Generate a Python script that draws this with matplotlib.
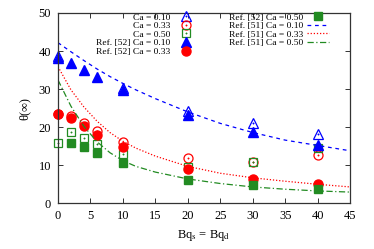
#!/usr/bin/env python3
"""Steady-state deformation theta(inf) versus Boussinesq number, three capillary numbers."""

import matplotlib
matplotlib.use("Agg")
import matplotlib.pyplot as plt

plt.rcParams["font.family"] = ["Liberation Serif", "DejaVu Serif"]
plt.rcParams["mathtext.fontset"] = "stix"

# present simulations (open symbols)
bq_open_010 = [0, 10, 20, 30, 40]
theta_open_010 = [38.6, 30.2, 24.3, 21.0, 18.2]
bq_open = [0, 2, 4, 6, 10, 20, 30, 40]
theta_open_033 = [23.4, 23.0, 21.0, 19.1, 16.1, 11.8, 10.9, 12.6]
theta_open_050 = [15.8, 18.6, 17.1, 15.6, 13.0, 9.6, 10.9, 14.4]

# Ref. [52] (filled symbols)
bq_ref52 = [0, 2, 4, 6, 10, 20, 30, 40]
theta_ref52_010 = [38.1, 36.8, 35.1, 33.3, 29.8, 23.3, 18.8, 15.3]
theta_ref52_033 = [23.4, 22.3, 20.2, 18.0, 14.7, 9.1, 6.5, 5.2]
bq_ref52_050 = [2, 4, 6, 10, 20, 30, 40]
theta_ref52_050 = [15.8, 14.7, 13.3, 10.5, 6.1, 4.7, 3.7]

# Ref. [51] (curves)
bq_ref51 = [0, 2, 4, 6, 8, 10, 12, 15, 20, 25, 30, 35, 40, 45]
theta_ref51_010 = [42.2, 39.8, 37.5, 35.3, 33.3, 31.5, 29.8, 27.5, 24.0, 21.0, 18.6, 16.6, 15.2, 13.8]
theta_ref51_033 = [35.9, 29.8, 25.3, 21.6, 18.6, 16.3, 14.5, 12.4, 9.7, 7.9, 6.7, 5.8, 5.0, 4.3]
theta_ref51_050 = [32.4, 25.5, 20.2, 16.2, 13.3, 11.2, 9.7, 8.2, 6.4, 5.2, 4.3, 3.7, 3.25, 2.95]

x_ticks = [0, 5, 10, 15, 20, 25, 30, 35, 40, 45]
y_ticks = [0, 10, 20, 30, 40, 50]

BLUE = "#0000ff"
RED = "#ff0000"
GREEN = "#228b22"


def open_series(ax, x, y, marker, color, size):
    ring, = ax.plot(x, y, ls="none", marker=marker, ms=size, mfc="none",
                    mec=color, mew=0.9, clip_on=False)
    dot, = ax.plot(x, y, ls="none", marker="o", ms=1.0, mfc=color, mec=color, mew=0.3,
                   clip_on=False)
    return (ring, dot)


fig = plt.figure(figsize=(3.74, 2.49), dpi=100)
ax = fig.add_axes([0.155, 0.1835, 0.781, 0.7645])

h1 = open_series(ax, bq_open_010, theta_open_010, "^", BLUE, 7.2)
h2 = open_series(ax, bq_open, theta_open_033, "o", RED, 6.5)
h3 = open_series(ax, bq_open, theta_open_050, "s", GREEN, 6.0)
h4, = ax.plot(bq_ref52, theta_ref52_010, ls="none", marker="^", ms=7.2, color=BLUE, clip_on=False)
h5, = ax.plot(bq_ref52, theta_ref52_033, ls="none", marker="o", ms=6.5, color=RED, clip_on=False)
h6, = ax.plot(bq_ref52_050, theta_ref52_050, ls="none", marker="s", ms=6.0, color=GREEN,
              clip_on=False)
h7, = ax.plot(bq_ref51, theta_ref51_010, color=BLUE, lw=0.9, dashes=(3, 3))
h8, = ax.plot(bq_ref51, theta_ref51_033, color=RED, lw=0.9, dashes=(1, 1.5))
h9, = ax.plot(bq_ref51, theta_ref51_050, color=GREEN, lw=0.9, dashes=(5, 2, 1, 2))

labels = ["Ca = 0.10", "Ca = 0.33", "Ca = 0.50",
          "Ref. [52] Ca = 0.10", "Ref. [52] Ca = 0.33", "Ref. [52] Ca = 0.50",
          "Ref. [51] Ca = 0.10", "Ref. [51] Ca = 0.33", "Ref. [51] Ca = 0.50"]
ax.legend([h1, h2, h3, h4, h5, h6, h7, h8, h9], labels, ncol=2, markerfirst=False,
          frameon=False, fontsize=6.8, loc="upper right", bbox_to_anchor=(0.94, 1.02),
          handlelength=2.3, handletextpad=0.45, columnspacing=3.4, labelspacing=0.0,
          borderaxespad=0.2, borderpad=0.2)

ax.set_xlim(0, 45)
ax.set_ylim(0, 50)
ax.set_xticks(x_ticks)
ax.set_yticks(y_ticks)
ax.tick_params(direction="in", length=3.5, width=0.7, top=True, right=True,
               labelsize=9, pad=5, color="#333333")
for spine in ax.spines.values():
    spine.set_color("#333333")
    spine.set_linewidth(0.9)

ax.set_xlabel(r"Bq$_\mathrm{s}$ = Bq$_\mathrm{d}$", fontsize=9, labelpad=4)
ax.set_ylabel("θ(∞)", fontsize=9, labelpad=6)

fig.savefig("out.png", dpi=100)
